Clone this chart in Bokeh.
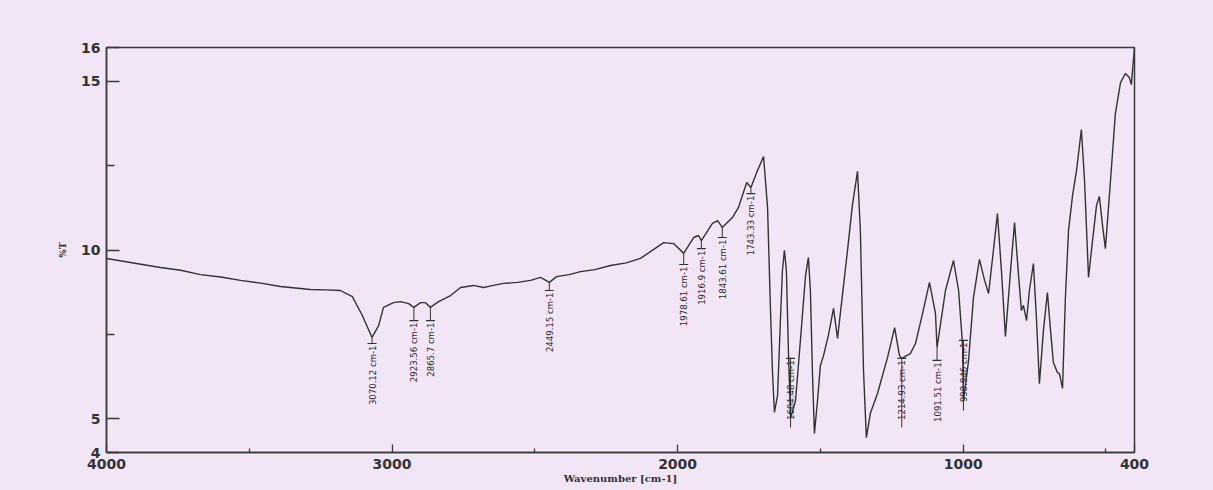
import numpy as np
from bokeh.plotting import figure
from bokeh.models import Range1d, FixedTicker
from bokeh.core.properties import value
from bokeh.embed import file_html
from bokeh.resources import INLINE

# ---- spectrum ----
wavenumber = [4000, 3916, 3811, 3740, 3671, 3600, 3531, 3460, 3391, 3286, 3230, 3181, 3139, 3104,
              3070.12, 3047, 3030, 2995, 2970, 2942, 2923.56, 2900, 2883, 2865.7,
              2837, 2795, 2760, 2715, 2680, 2645, 2610, 2561, 2515, 2480,
              2449.15, 2424, 2380, 2340, 2290, 2235, 2180, 2130, 2049, 2014, 1978.61, 1944, 1927,
              1916.9, 1878, 1860, 1843.61, 1808, 1787, 1758, 1743.33, 1720, 1699,
              1685, 1675, 1668, 1661, 1650, 1640, 1633, 1626, 1619, 1612,
              1604.48, 1587, 1570, 1552, 1542, 1535, 1528, 1521, 1510, 1500,
              1489, 1472, 1454, 1440, 1423, 1405, 1388, 1370, 1360, 1349,
              1339, 1325, 1300, 1265, 1240, 1223, 1214.93, 1185, 1167, 1142,
              1118, 1097, 1091.51, 1062, 1034, 1016, 1002, 998.946, 981, 964,
              943, 925, 911, 894, 880, 866, 852, 834, 820, 806,
              796, 789, 778, 768, 754, 743, 733, 719, 705, 694,
              684, 670, 663, 652, 642, 631, 617, 603, 586, 575,
              561, 547, 533, 523, 512, 502, 484, 467, 449, 432,
              418, 411, 404, 400]
transmittance = [9.75, 9.63, 9.48, 9.40, 9.27, 9.20, 9.10, 9.02, 8.92, 8.83, 8.82, 8.80, 8.62, 8.06,
                 7.41, 7.76, 8.30, 8.44, 8.47, 8.41, 8.30, 8.44, 8.44, 8.30,
                 8.47, 8.65, 8.89, 8.95, 8.89, 8.95, 9.01, 9.04, 9.10, 9.19,
                 9.04, 9.21, 9.27, 9.36, 9.42, 9.54, 9.62, 9.75, 10.22, 10.19, 9.90, 10.37, 10.43,
                 10.28, 10.79, 10.87, 10.67, 10.96, 11.26, 12.00, 11.85, 12.36, 12.77,
                 11.26, 8.30, 6.43, 5.19, 5.69, 7.91, 9.39, 9.99, 9.39, 7.02,
                 5.01, 5.54, 7.32, 9.24, 9.78, 8.80, 6.43, 4.56, 5.54, 6.58,
                 6.87, 7.47, 8.27, 7.38, 8.65, 9.99, 11.32, 12.33, 10.58, 6.43,
                 4.44, 5.16, 5.75, 6.81, 7.70, 6.87, 6.79, 6.93, 7.23, 8.12,
                 9.04, 8.12, 7.11, 8.80, 9.69, 8.80, 7.17, 5.54, 6.73, 8.59,
                 9.72, 9.10, 8.71, 9.99, 11.08, 9.39, 7.44, 9.39, 10.81, 9.24,
                 8.21, 8.36, 7.91, 8.80, 9.60, 7.91, 6.04, 7.61, 8.74, 7.61,
                 6.67, 6.37, 6.34, 5.90, 8.59, 10.58, 11.61, 12.36, 13.57, 12.06,
                 9.19, 10.28, 11.32, 11.59, 10.73, 10.04, 12.06, 14.04, 14.96, 15.23,
                 15.11, 14.90, 15.61, 16.0]

# ---- peak annotations ----
peak_text = ["3070.12 cm-1", "2923.56 cm-1", "2865.7 cm-1", "2449.15 cm-1",
             "1978.61 cm-1", "1916.9 cm-1", "1843.61 cm-1", "1743.33 cm-1",
             "1604.48 cm-1", "1214.93 cm-1", "1091.51 cm-1", "998.946 cm-1"]
peak_wn = [3070.12, 2923.56, 2865.7, 2449.15, 1978.61, 1916.9, 1843.61, 1743.33,
           1604.48, 1214.93, 1091.51, 998.946]
peak_tip = [7.41, 8.30, 8.30, 9.04, 9.90, 10.28, 10.67, 11.85,
            4.74, 4.74, 7.11, 5.24]
label_top = [7.23, 7.91, 7.91, 8.80, 9.57, 10.04, 10.37, 11.67,
             6.79, 6.79, 6.73, 7.32]

# ---- axis ticks ----
x_major = [4000, 3000, 2000, 1000, 400]
x_minor = [3500, 2500, 1500, 500]
y_major = [4, 5, 10, 15, 16]
y_minor = [7.5, 12.5]

BG = "#f1e5f6"
INK = "#3a3a3a"

p = figure(width=1205, height=488, output_backend="svg", toolbar_location=None,
           x_range=Range1d(4000, 400), y_range=Range1d(4, 16),
           min_border_left=106, min_border_right=71, min_border_top=47,
           min_border_bottom=36)
p.background_fill_color = BG
p.border_fill_color = BG
p.outline_line_color = INK
p.outline_line_width = 1.5
p.xgrid.visible = False
p.ygrid.visible = False

p.line(wavenumber, transmittance, line_color="#333333", line_width=1.4)

# annotation stems, bars and texts
p.segment(x0=peak_wn, y0=peak_tip, x1=peak_wn, y1=label_top,
          line_color="#333333", line_width=1)
p.scatter(x=peak_wn, y=label_top, marker="dash", size=9,
          line_color="#333333", line_width=1.2)
p.text(x=peak_wn, y=[v - 0.06 for v in label_top], text=peak_text,
       angle=np.pi / 2, text_align="right", text_baseline="middle",
       text_font=value("DejaVu Sans Condensed"), text_font_size="9.5px",
       text_color="#2a2a2a")

# axes
for ax in (p.xaxis[0], p.yaxis[0]):
    ax.axis_line_color = INK
    ax.axis_line_width = 1.5
    ax.major_tick_line_color = INK
    ax.minor_tick_line_color = INK
    ax.major_tick_line_width = 1.3
    ax.minor_tick_line_width = 1.3
    ax.major_tick_out = 0
    ax.minor_tick_out = 0
    ax.major_label_text_font = "DejaVu Sans"
    ax.major_label_text_font_style = "bold"
    ax.major_label_text_font_size = "14px"
    ax.major_label_text_color = "#333333"
    ax.axis_label_text_font = "DejaVu Serif"
    ax.axis_label_text_font_style = "bold"
    ax.axis_label_text_color = "#333333"

p.xaxis.ticker = FixedTicker(ticks=x_major, minor_ticks=x_minor)
p.xaxis.major_tick_in = 8
p.xaxis.minor_tick_in = 4
p.xaxis.major_label_standoff = 6
p.xaxis.axis_label = "Wavenumber [cm-1]"
p.xaxis.axis_label_text_font_size = "10px"
p.xaxis.axis_label_standoff = 1

p.yaxis.ticker = FixedTicker(ticks=y_major, minor_ticks=y_minor)
p.yaxis.major_tick_in = 13
p.yaxis.minor_tick_in = 8
p.yaxis.major_label_standoff = 6
p.yaxis.axis_label = "%T"
p.yaxis.axis_label_text_font_size = "9px"
p.yaxis.axis_label_standoff = 10

html = file_html(p, INLINE)
html = html.replace("</head>", "<style>html,body{background:%s;}</style></head>" % BG, 1)
open("out.html", "w").write(html)
